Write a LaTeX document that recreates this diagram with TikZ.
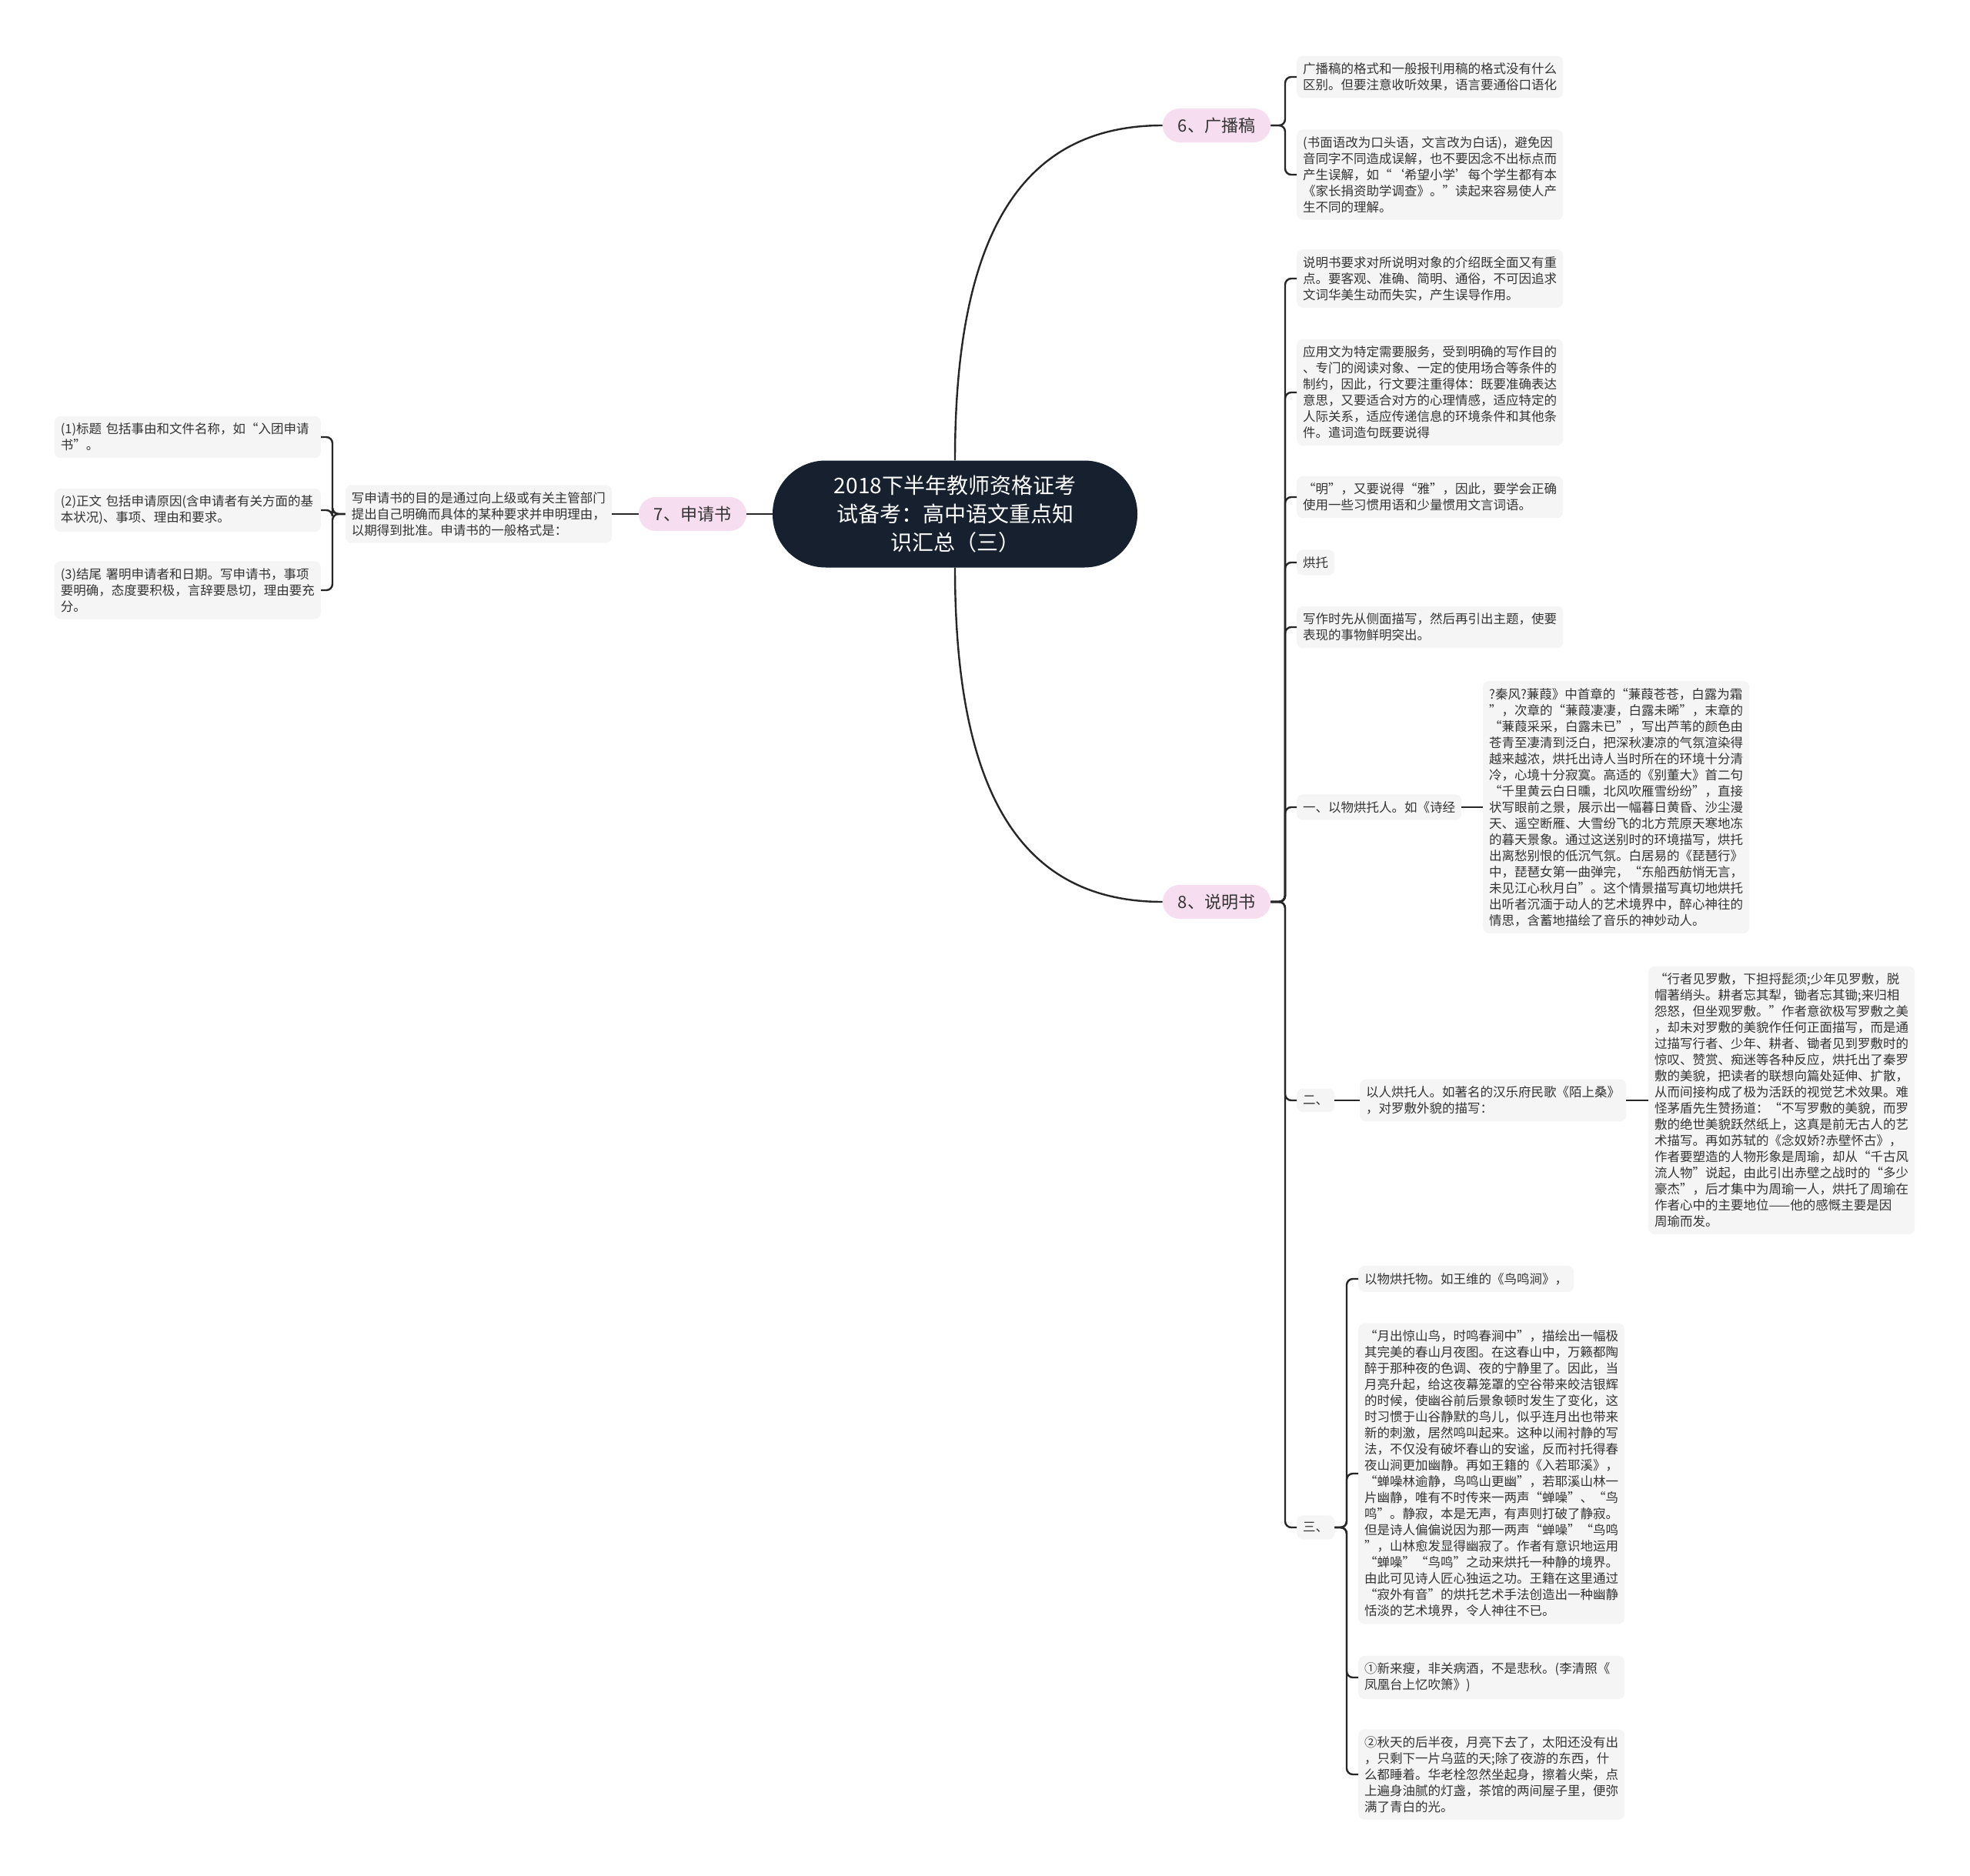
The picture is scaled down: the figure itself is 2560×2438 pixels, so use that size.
\documentclass[tikz,border=0pt]{standalone}
\usepackage{fontspec}
\newfontfamily\zhfont{Noto Sans CJK SC}
\definecolor{rootbg}{HTML}{16202F}
\definecolor{branchbg}{HTML}{F6DDEF}
\definecolor{leafbg}{HTML}{F5F5F5}
\definecolor{ink}{HTML}{333333}
\begin{document}
\begin{tikzpicture}[x=1pt, y=-1pt,
  every node/.style={font=\zhfont\fontsize{16.5}{21}\selectfont, text=ink},
  leaf/.style={fill=leafbg, rounded corners=8pt, align=left, text width=330pt, inner xsep=8pt, inner ysep=9pt},
  tag/.style={fill=leafbg, rounded corners=8pt, inner xsep=8pt, inner ysep=9pt},
  branch/.style={fill=branchbg, rounded corners=22pt, minimum height=44pt, inner xsep=20pt, font=\zhfont\fontsize{22}{26}\selectfont},
  root/.style={fill=rootbg, text=white, rounded corners=69pt, minimum width=474pt, minimum height=139pt, align=center, font=\zhfont\fontsize{28}{37}\selectfont},
  link/.style={draw=black!85, line width=2.4pt, rounded corners=8pt}]
\fill[white] (0,0) rectangle (2560,2438);
\useasboundingbox (0,0) rectangle (2560,2438);
% root and branches
\node[root] (root) at (1241,668) {2018下半年教师资格证考\\试备考：高中语文重点知\\识汇总（三）};
\node[branch] (b6) at (1581,163) {6、广播稿};
\node[branch] (b7) at (900,668) {7、申请书};
\node[branch] (b8) at (1581,1172) {8、说明书};
\draw[link] (root.north) .. controls (1241,300) and (1330,163) .. (b6.west);
\draw[link] (root.south) .. controls (1241,1036) and (1330,1172) .. (b8.west);
\draw[link] (root.west) -- (b7.east);
% 6
\node[leaf, anchor=west] (a1) at (1685,100) {广播稿的格式和一般报刊用稿的格式没有什么\\区别。但要注意收听效果，语言要通俗口语化};
\node[leaf, anchor=west] (a2) at (1685,227) {(书面语改为口头语，文言改为白话)，避免因\\音同字不同造成误解，也不要因念不出标点而\\产生误解，如“‘希望小学’每个学生都有本\\《家长捐资助学调查》。”读起来容易使人产\\生不同的理解。};
\coordinate (j6) at (1670,163);
\foreach \c in {a1,a2} \draw[link] (b6.east) -- (j6) |- (\c.west);
% 7
\node[leaf, anchor=east] (t7) at (795,668) {写申请书的目的是通过向上级或有关主管部门\\提出自己明确而具体的某种要求并申明理由，\\以期得到批准。申请书的一般格式是：};
\draw[link] (b7.west) -- (t7.east);
\node[leaf, anchor=east] (l1) at (417,568) {(1)标题 包括事由和文件名称，如“入团申请\\书”。};
\node[leaf, anchor=east] (l2) at (417,663) {(2)正文 包括申请原因(含申请者有关方面的基\\本状况)、事项、理由和要求。};
\node[leaf, anchor=east] (l3) at (417,767) {(3)结尾 署明申请者和日期。写申请书，事项\\要明确，态度要积极，言辞要恳切，理由要充\\分。};
\coordinate (j7) at (432,668);
\foreach \c in {l1,l2,l3} \draw[link] (t7.west) -- (j7) |- (\c.east);
% 8
\node[leaf, anchor=west] (c1) at (1685,362) {说明书要求对所说明对象的介绍既全面又有重\\点。要客观、准确、简明、通俗，不可因追求\\文词华美生动而失实，产生误导作用。};
\node[leaf, anchor=west] (c2) at (1685,510) {应用文为特定需要服务，受到明确的写作目的\\、专门的阅读对象、一定的使用场合等条件的\\制约，因此，行文要注重得体：既要准确表达\\意思，又要适合对方的心理情感，适应特定的\\人际关系，适应传递信息的环境条件和其他条\\件。遣词造句既要说得};
\node[leaf, anchor=west] (c3) at (1685,646) {“明”，又要说得“雅”，因此，要学会正确\\使用一些习惯用语和少量惯用文言词语。};
\node[tag, anchor=west] (c4) at (1685,731) {烘托};
\node[leaf, anchor=west] (c5) at (1685,815) {写作时先从侧面描写，然后再引出主题，使要\\表现的事物鲜明突出。};
\node[tag, anchor=west] (c6) at (1685,1049) {一、以物烘托人。如《诗经};
\node[tag, anchor=west] (c7) at (1685,1430) {二、};
\node[tag, anchor=west] (c8) at (1685,1985) {三、};
\coordinate (j8) at (1670,1172);
\foreach \c in {c1,c2,c3,c4,c5,c6,c7,c8} \draw[link] (b8.east) -- (j8) |- (\c.west);
% 一
\node[leaf, anchor=west] (d1) at (1927,1049) {?秦风?蒹葭》中首章的“蒹葭苍苍，白露为霜\\”，次章的“蒹葭凄凄，白露未晞”，末章的\\“蒹葭采采，白露未已”，写出芦苇的颜色由\\苍青至凄清到泛白，把深秋凄凉的气氛渲染得\\越来越浓，烘托出诗人当时所在的环境十分清\\冷，心境十分寂寞。高适的《别董大》首二句\\“千里黄云白日曛，北风吹雁雪纷纷”，直接\\状写眼前之景，展示出一幅暮日黄昏、沙尘漫\\天、遥空断雁、大雪纷飞的北方荒原天寒地冻\\的暮天景象。通过这送别时的环境描写，烘托\\出离愁别恨的低沉气氛。白居易的《琵琶行》\\中，琵琶女第一曲弹完，“东船西舫悄无言，\\未见江心秋月白”。这个情景描写真切地烘托\\出听者沉湎于动人的艺术境界中，醉心神往的\\情思，含蓄地描绘了音乐的神妙动人。};
\draw[link] (c6.east) -- (d1.west);
% 二
\node[leaf, anchor=west] (e1) at (1767,1430) {以人烘托人。如著名的汉乐府民歌《陌上桑》\\，对罗敷外貌的描写：};
\node[leaf, anchor=west] (e2) at (2142,1430) {“行者见罗敷，下担捋髭须;少年见罗敷，脱\\帽著绡头。耕者忘其犁，锄者忘其锄;来归相\\怨怒，但坐观罗敷。”作者意欲极写罗敷之美\\，却未对罗敷的美貌作任何正面描写，而是通\\过描写行者、少年、耕者、锄者见到罗敷时的\\惊叹、赞赏、痴迷等各种反应，烘托出了秦罗\\敷的美貌，把读者的联想向篇处延伸、扩散，\\从而间接构成了极为活跃的视觉艺术效果。难\\怪茅盾先生赞扬道：“不写罗敷的美貌，而罗\\敷的绝世美貌跃然纸上，这真是前无古人的艺\\术描写。再如苏轼的《念奴娇?赤壁怀古》，\\作者要塑造的人物形象是周瑜，却从“千古风\\流人物”说起，由此引出赤壁之战时的“多少\\豪杰”，后才集中为周瑜一人，烘托了周瑜在\\作者心中的主要地位——他的感慨主要是因\\周瑜而发。};
\draw[link] (c7.east) -- (e1.west);
\draw[link] (e1.east) -- (e2.west);
% 三
\node[tag, anchor=west] (f1) at (1765,1662) {以物烘托物。如王维的《鸟鸣涧》，};
\node[leaf, anchor=west] (f2) at (1765,1915) {“月出惊山鸟，时鸣春涧中”，描绘出一幅极\\其完美的春山月夜图。在这春山中，万籁都陶\\醉于那种夜的色调、夜的宁静里了。因此，当\\月亮升起，给这夜幕笼罩的空谷带来皎洁银辉\\的时候，使幽谷前后景象顿时发生了变化，这\\时习惯于山谷静默的鸟儿，似乎连月出也带来\\新的刺激，居然鸣叫起来。这种以闹衬静的写\\法，不仅没有破坏春山的安谧，反而衬托得春\\夜山涧更加幽静。再如王籍的《入若耶溪》，\\“蝉噪林逾静，鸟鸣山更幽”，若耶溪山林一\\片幽静，唯有不时传来一两声“蝉噪”、“鸟\\鸣”。静寂，本是无声，有声则打破了静寂。\\但是诗人偏偏说因为那一两声“蝉噪”“鸟鸣\\”，山林愈发显得幽寂了。作者有意识地运用\\“蝉噪”“鸟鸣”之动来烘托一种静的境界。\\由此可见诗人匠心独运之功。王籍在这里通过\\“寂外有音”的烘托艺术手法创造出一种幽静\\恬淡的艺术境界，令人神往不已。};
\node[leaf, anchor=west] (f3) at (1765,2180) {①新来瘦，非关病酒，不是悲秋。(李清照《\\凤凰台上忆吹箫》)};
\node[leaf, anchor=west] (f4) at (1765,2306) {②秋天的后半夜，月亮下去了，太阳还没有出\\，只剩下一片乌蓝的天;除了夜游的东西，什\\么都睡着。华老栓忽然坐起身，擦着火柴，点\\上遍身油腻的灯盏，茶馆的两间屋子里，便弥\\满了青白的光。};
\coordinate (j3) at (1750,1985);
\foreach \c in {f1,f2,f3,f4} \draw[link] (c8.east) -- (j3) |- (\c.west);
\end{tikzpicture}
\end{document}
